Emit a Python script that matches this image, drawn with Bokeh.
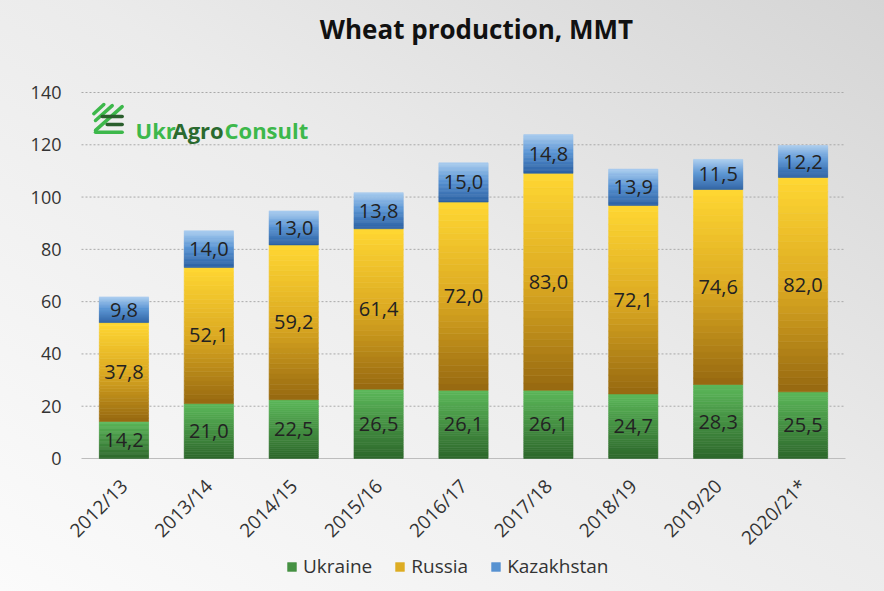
import math
from bokeh.plotting import figure
from bokeh.models import ColumnDataSource, Label, Legend, LegendItem, Range1d
from bokeh.embed import file_html
from bokeh.resources import INLINE
from bokeh.core.properties import value

# ---------------- data ----------------
categories = ["2012/13", "2013/14", "2014/15", "2015/16", "2016/17",
              "2017/18", "2018/19", "2019/20", "2020/21*"]
ukraine = [14.2, 21.0, 22.5, 26.5, 26.1, 26.1, 24.7, 28.3, 25.5]
russia = [37.8, 52.1, 59.2, 61.4, 72.0, 83.0, 72.1, 74.6, 82.0]
kazakhstan = [9.8, 14.0, 13.0, 13.8, 15.0, 14.8, 13.9, 11.5, 12.2]
series_names = ["Ukraine", "Russia", "Kazakhstan"]
y_ticks = [0, 20, 40, 60, 80, 100, 120, 140]
title_text = "Wheat production, MMT"
logo_parts = ["Ukr", "Agro", "Consult"]

# ---------------- layout / style ----------------
FONT = "Open Sans"
W, H = 884, 591
PLOT_LEFT_PX, PLOT_RIGHT_PX = 81, 845   # horizontal extent of the category area
TOP_TICK_PX, ZERO_PX = 92, 458          # pixel rows of y=140 and y=0
n_cat = len(categories)
PX_PER_CAT = (PLOT_RIGHT_PX - PLOT_LEFT_PX) / n_cat
Y_MAX_TICK = y_ticks[-1]
PX_PER_UNIT = (ZERO_PX - TOP_TICK_PX) / Y_MAX_TICK
X_START = -PLOT_LEFT_PX / PX_PER_CAT
X_END = n_cat + (W - PLOT_RIGHT_PX) / PX_PER_CAT
Y_TOP = Y_MAX_TICK + TOP_TICK_PX / PX_PER_UNIT
Y_BOTTOM = -(H - ZERO_PX) / PX_PER_UNIT
XLABEL_DROP_PX = 24
YLABEL_GAP_PX = 20
N_SLICES = 30
BAR_WIDTH = 0.58
gradients = {
    "Ukraine": [(0.0, "#2d672b"), (1.0, "#5cb85a")],
    "Russia": [(0.0, "#966810"), (0.5, "#dcaa22"), (1.0, "#ffd733")],
    "Kazakhstan": [(0.0, "#2b60a2"), (0.55, "#5a95d4"), (1.0, "#a9ccef")],
}


def hex2rgb(h):
    h = h.lstrip("#")
    return tuple(int(h[i:i + 2], 16) for i in (0, 2, 4))


def grad_color(stops, t):
    for (t0, c0), (t1, c1) in zip(stops[:-1], stops[1:]):
        if t0 <= t <= t1:
            f = (t - t0) / (t1 - t0) if t1 > t0 else 0
            a, b = hex2rgb(c0), hex2rgb(c1)
            return "#%02x%02x%02x" % tuple(round(a[i] + (b[i] - a[i]) * f) for i in range(3))
    return stops[-1][1]


p = figure(x_range=Range1d(X_START, X_END), y_range=Range1d(Y_BOTTOM, Y_TOP),
           x_axis_type=None, y_axis_type=None,
           width=W, height=H, output_backend="svg", toolbar_location=None,
           min_border=0, background_fill_alpha=0, border_fill_alpha=0, outline_line_color=None,
           styles={"background": "linear-gradient(to bottom left, #d5d5d5 0%, #ebebeb 45%, #fbfbfb 100%)"})
p.grid.visible = False

# category centres on the x scale
xpos = [i + 0.5 for i in range(n_cat)]

# ---------------- grid lines & baseline ----------------
grid_ticks = [t for t in y_ticks if t > 0]
p.segment(x0=[0] * len(grid_ticks), x1=[n_cat] * len(grid_ticks), y0=grid_ticks, y1=grid_ticks,
          line_color="#a9a9a9", line_width=1, line_dash="2 2")
p.segment(x0=[0], x1=[n_cat], y0=[0], y1=[0], line_color="#bdbdbd", line_width=1)

# y tick labels
p.text(x=[-YLABEL_GAP_PX / PX_PER_CAT] * len(y_ticks), y=y_ticks, text=[str(t) for t in y_ticks],
       text_align="right", text_baseline="middle", text_font=value(FONT),
       text_font_size="18px", text_color="#333333")

# ---------------- stacked gradient bars ----------------
values = {"Ukraine": ukraine, "Russia": russia, "Kazakhstan": kazakhstan}
base = [0.0] * n_cat
renderers = {}
label_x, label_y, label_t = [], [], []
for name in series_names:
    vals = values[name]
    xs, bots, tops, cols = [], [], [], []
    for k in range(N_SLICES):
        t = (k + 0.5) / N_SLICES
        col = grad_color(gradients[name], t)
        for i in range(n_cat):
            xs.append(xpos[i])
            bots.append(base[i] + vals[i] * k / N_SLICES)
            tops.append(base[i] + vals[i] * (k + 1) / N_SLICES)
            cols.append(col)
    src = ColumnDataSource(dict(x=xs, bottom=bots, top=tops, color=cols))
    r = p.vbar(x="x", bottom="bottom", top="top", width=BAR_WIDTH, source=src,
               fill_color="color", line_color="color", line_width=0.6)
    renderers[name] = r
    for i in range(n_cat):
        label_x.append(xpos[i])
        label_y.append(base[i] + vals[i] / 2)
        label_t.append(("%.1f" % vals[i]).replace(".", ","))
        base[i] += vals[i]

p.text(x="x", y="y", text="t", source=ColumnDataSource(dict(x=label_x, y=label_y, t=label_t)),
       text_align="center", text_baseline="middle", text_font=value(FONT),
       text_font_size="20px", text_color="#222222")

# category labels, rotated 45 degrees, hanging below the baseline
xl_y = -XLABEL_DROP_PX / PX_PER_UNIT
p.text(x=xpos, y=[xl_y] * n_cat, text=categories,
       angle=math.pi / 4, text_align="right", text_baseline="middle",
       text_font=value(FONT), text_font_size="19px", text_color="#333333")

# ---------------- legend ----------------
legend = Legend(items=[LegendItem(label=n, renderers=[renderers[n]], index=N_SLICES // 2 * n_cat)
                       for n in series_names],
                orientation="horizontal", location=(286, 12),
                label_text_font=FONT, label_text_font_size="19px", label_text_color="#333333",
                glyph_width=11, glyph_height=11, label_standoff=6, spacing=22,
                border_line_color=None, background_fill_alpha=0, padding=0)
p.add_layout(legend)

# ---------------- title ----------------
p.add_layout(Label(x=476, y=H - 28, x_units="screen", y_units="screen", text=title_text,
                   text_align="center", text_baseline="middle", text_font=FONT,
                   text_font_style="bold", text_font_size="26px", text_color="#111111"))

# ---------------- logo ----------------
logo_x = [135, 172, 224]
logo_c = ["#3db84b", "#2a6a2f", "#3db84b"]
for t, lx, lc in zip(logo_parts, logo_x, logo_c):
    p.add_layout(Label(x=lx, y=H - 129, x_units="screen", y_units="screen", text=t,
                       text_align="left", text_baseline="alphabetic", text_font=FONT,
                       text_font_style="bold", text_font_size="22px", text_color=lc))
icon_x0 = [0.145, 0.165, 0.165, 0.244, 0.303, 0.165]
icon_y0 = [131.9, 129.3, 125.5, 130.8, 127.8, 124.8]
icon_x1 = [0.263, 0.362, 0.479, 0.479, 0.479, 0.479]
icon_y1 = [135.4, 135.0, 134.6, 130.8, 127.8, 124.8]
icon_c = ["#3db84b", "#3db84b", "#3db84b", "#2a5e2c", "#2a5e2c", "#3db84b"]
p.segment(x0=icon_x0, y0=icon_y0, x1=icon_x1, y1=icon_y1, color=icon_c, line_width=3.5,
          line_cap="round")

open("out.html", "w").write(file_html(p, INLINE))
